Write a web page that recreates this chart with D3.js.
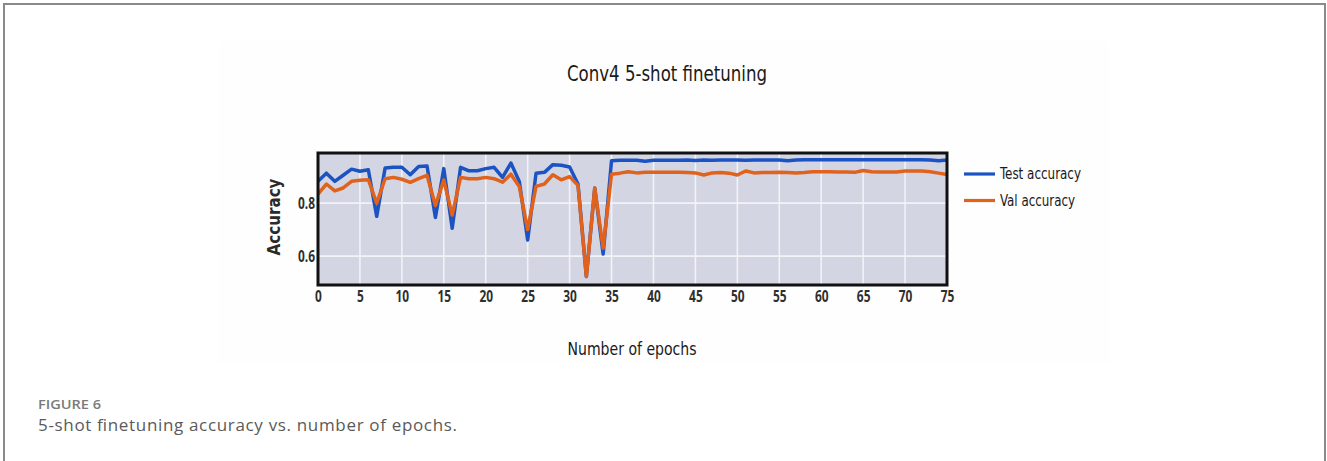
<!DOCTYPE html>
<html>
<head>
<meta charset="utf-8">
<script src="https://cdn.jsdelivr.net/npm/d3@7"></script>
<style>
  html, body { margin: 0; padding: 0; background: #fff; }
  svg { display: block; }
</style>
</head>
<body>
<svg id="chart" width="1327" height="461"></svg>
<script>
// ---- data ----
const epochs = d3.range(0, 76);
const testAccuracy = [
  0.882, 0.913, 0.882, 0.905, 0.928, 0.920, 0.926, 0.750, 0.932, 0.935,
  0.935, 0.907, 0.938, 0.940, 0.746, 0.930, 0.705, 0.935, 0.922, 0.922,
  0.930, 0.935, 0.897, 0.951, 0.882, 0.661, 0.913, 0.916, 0.945, 0.943,
  0.936, 0.872, 0.523, 0.857, 0.608, 0.960, 0.962, 0.962, 0.962, 0.958,
  0.962, 0.962, 0.962, 0.962, 0.963, 0.961, 0.963, 0.962, 0.963, 0.963,
  0.963, 0.962, 0.963, 0.963, 0.963, 0.963, 0.960, 0.963, 0.964, 0.964,
  0.964, 0.964, 0.964, 0.964, 0.964, 0.964, 0.964, 0.964, 0.964, 0.964,
  0.964, 0.964, 0.964, 0.963, 0.960, 0.963
];
const valAccuracy = [
  0.834, 0.872, 0.846, 0.857, 0.882, 0.886, 0.888, 0.800, 0.892, 0.897,
  0.890, 0.878, 0.892, 0.905, 0.791, 0.887, 0.755, 0.897, 0.892, 0.892,
  0.897, 0.892, 0.879, 0.909, 0.863, 0.700, 0.863, 0.872, 0.907, 0.888,
  0.900, 0.867, 0.523, 0.857, 0.630, 0.909, 0.913, 0.918, 0.914, 0.916,
  0.916, 0.916, 0.916, 0.916, 0.915, 0.914, 0.906, 0.914, 0.915, 0.913,
  0.906, 0.921, 0.914, 0.915, 0.915, 0.916, 0.915, 0.914, 0.915, 0.918,
  0.918, 0.918, 0.917, 0.917, 0.916, 0.923, 0.918, 0.917, 0.917, 0.917,
  0.921, 0.921, 0.921, 0.918, 0.913, 0.908
];
const xTicks = [0, 5, 10, 15, 20, 25, 30, 35, 40, 45, 50, 55, 60, 65, 70, 75];
const yTicks = [0.6, 0.8];
const seriesNames = ["Test accuracy", "Val accuracy"];
const seriesColors = ["#1c52c2", "#e0621c"];

// ---- layout ----
const svg = d3.select("#chart");
const W = 1327, H = 461;
const plot = { left: 318, right: 947, top: 153, bottom: 285 };
const condensed = "'Liberation Sans Narrow', 'DejaVu Sans Condensed', 'Open Sans', sans-serif";

// outer figure frame (open at the bottom)
svg.append("path")
  .attr("d", `M4,${H} L4,4 L1325,4 L1325,${H}`)
  .attr("fill", "none").attr("stroke", "#8a8a8a").attr("stroke-width", 2);

// faint image background
svg.append("rect").attr("x", 218).attr("y", 41).attr("width", 892).attr("height", 324)
  .attr("fill", "#fefefe");

const x = d3.scaleLinear().domain([0, 75]).range([plot.left, plot.right]);
const y = d3.scaleLinear().domain([0.491, 0.989]).range([plot.bottom, plot.top]);

// plot background
svg.append("rect")
  .attr("x", plot.left).attr("y", plot.top)
  .attr("width", plot.right - plot.left).attr("height", plot.bottom - plot.top)
  .attr("fill", "#d3d5e2");

// grid
const grid = svg.append("g");
grid.selectAll("line.vx").data(xTicks).join("line")
  .attr("x1", d => x(d)).attr("x2", d => x(d))
  .attr("y1", plot.top).attr("y2", plot.bottom)
  .attr("stroke", "#f2f3f8").attr("stroke-width", 1.6);
grid.selectAll("line.hy").data(yTicks).join("line")
  .attr("x1", plot.left).attr("x2", plot.right)
  .attr("y1", d => y(d)).attr("y2", d => y(d))
  .attr("stroke", "#f2f3f8").attr("stroke-width", 1.6);

// blur filter to mimic the soft rendering
const defs = svg.append("defs");
defs.append("filter").attr("id", "soft")
  .attr("filterUnits", "userSpaceOnUse")
  .attr("x", 0).attr("y", 0).attr("width", W).attr("height", H)
  .append("feGaussianBlur").attr("stdDeviation", 0.6);

// lines
const line = d3.line().x((d, i) => x(epochs[i])).y(d => y(d));
const clip = defs.append("clipPath").attr("id", "clip");
clip.append("rect").attr("x", plot.left).attr("y", plot.top - 2)
  .attr("width", plot.right - plot.left).attr("height", plot.bottom - plot.top + 2);
const lines = svg.append("g").attr("clip-path", "url(#clip)").attr("filter", "url(#soft)");
[testAccuracy, valAccuracy].forEach((s, k) => {
  lines.append("path").datum(s)
    .attr("d", line)
    .attr("fill", "none")
    .attr("stroke", seriesColors[k])
    .attr("stroke-width", 3.5)
    .attr("stroke-linejoin", "round");
});

// frame
svg.append("rect")
  .attr("x", plot.left).attr("y", plot.top)
  .attr("width", plot.right - plot.left).attr("height", plot.bottom - plot.top)
  .attr("fill", "none").attr("stroke", "#111").attr("stroke-width", 3);

// axes
const tickFont = "'Open Sans', sans-serif";
const xAxis = d3.axisBottom(x).tickValues(xTicks).tickSize(0).tickPadding(6).tickFormat(d3.format("d"));
const gx = svg.append("g").attr("transform", `translate(0,${plot.bottom})`).call(xAxis);
gx.select(".domain").remove();
gx.selectAll("text")
  .attr("font-family", tickFont).attr("font-size", 16).attr("font-weight", 700)
  .attr("fill", "#2e2e2e")
  .attr("textLength", d => String(d).length * 6.8).attr("lengthAdjust", "spacingAndGlyphs");

const yAxis = d3.axisLeft(y).tickValues(yTicks).tickSize(0).tickPadding(3).tickFormat(d3.format(".1f"));
const gy = svg.append("g").attr("transform", `translate(${plot.left},0)`).call(yAxis);
gy.select(".domain").remove();
gy.selectAll("text")
  .attr("font-family", tickFont).attr("font-size", 16).attr("font-weight", 700)
  .attr("fill", "#2e2e2e")
  .attr("textLength", 17).attr("lengthAdjust", "spacingAndGlyphs");

// title
svg.append("text")
  .attr("x", 667).attr("y", 81).attr("text-anchor", "middle")
  .attr("font-family", condensed).attr("font-size", 21).attr("font-weight", 500)
  .attr("textLength", 200).attr("lengthAdjust", "spacingAndGlyphs")
  .attr("fill", "#1a1a1a").text("Conv4 5-shot finetuning");

// axis labels
svg.append("text")
  .attr("transform", "translate(280,217) rotate(-90)")
  .attr("text-anchor", "middle")
  .attr("font-family", condensed).attr("font-size", 17).attr("font-weight", "bold")
  .attr("textLength", 77).attr("lengthAdjust", "spacingAndGlyphs")
  .attr("fill", "#2a2a2a").text("Accuracy");
svg.append("text")
  .attr("x", 632).attr("y", 355).attr("text-anchor", "middle")
  .attr("font-family", condensed).attr("font-size", 17)
  .attr("textLength", 129).attr("lengthAdjust", "spacingAndGlyphs")
  .attr("fill", "#1a1a1a").text("Number of epochs");

// legend
const legend = svg.append("g");
seriesNames.forEach((name, k) => {
  const ly = 174 + k * 26.5;
  legend.append("line")
    .attr("x1", 964).attr("x2", 995).attr("y1", ly).attr("y2", ly)
    .attr("stroke", seriesColors[k]).attr("stroke-width", 3.2).attr("filter", "url(#soft)");
  legend.append("text")
    .attr("x", 1000).attr("y", ly + 5)
    .attr("font-family", condensed).attr("font-size", 15)
    .attr("textLength", k === 0 ? 81 : 75).attr("lengthAdjust", "spacingAndGlyphs")
    .attr("fill", "#1a1a1a").text(name);
});

// caption
svg.append("text")
  .attr("x", 38).attr("y", 409)
  .attr("font-family", "'Open Sans', sans-serif").attr("font-size", 13).attr("font-weight", 600)
  .attr("textLength", 63).attr("lengthAdjust", "spacingAndGlyphs")
  .attr("fill", "#7a7a7a").text("FIGURE 6");
svg.append("text")
  .attr("x", 38).attr("y", 431)
  .attr("font-family", "'Open Sans', sans-serif").attr("font-size", 17)
  .attr("textLength", 419).attr("lengthAdjust", "spacing")
  .attr("fill", "#5a5a5a").text("5-shot finetuning accuracy vs. number of epochs.");
</script>
</body>
</html>
